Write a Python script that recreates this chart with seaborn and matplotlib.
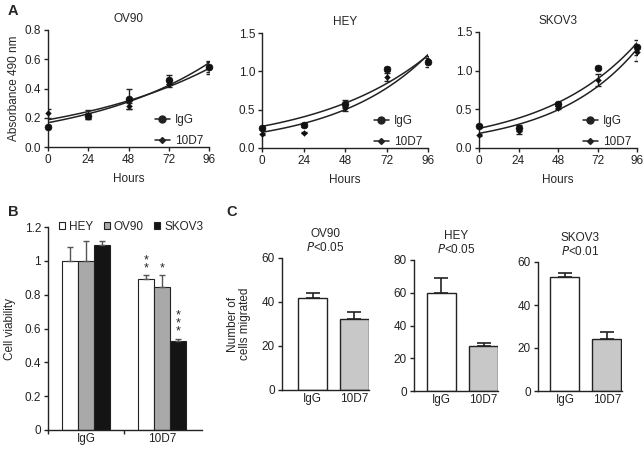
import matplotlib
matplotlib.use("Agg")
import matplotlib.pyplot as plt
import numpy as np
import pandas as pd
import seaborn as sns

# ---- data -----------------------------------------------------------------
hours = [0, 24, 48, 72, 96]
growth_lines = ["OV90", "HEY", "SKOV3"]
growth_ylim = {"OV90": (0.8, [0.0, 0.2, 0.4, 0.6, 0.8]),
               "HEY": (1.5, [0.0, 0.5, 1.0, 1.5]),
               "SKOV3": (1.5, [0.0, 0.5, 1.0, 1.5])}
igg_mean = {"OV90": [0.14, 0.21, 0.33, 0.46, 0.55],
            "HEY": [0.26, 0.30, 0.58, 1.03, 1.12],
            "SKOV3": [0.29, 0.26, 0.57, 1.04, 1.30]}
igg_err = {"OV90": [0.01, 0.02, 0.07, 0.03, 0.04],
           "HEY": [0.02, 0.02, 0.04, 0.03, 0.06],
           "SKOV3": [0.01, 0.04, 0.03, 0.02, 0.10]}
d10_mean = {"OV90": [0.23, 0.22, 0.28, 0.43, 0.54],
            "HEY": [0.18, 0.20, 0.52, 0.93, 1.15],
            "SKOV3": [0.17, 0.22, 0.52, 0.88, 1.24]}
d10_err = {"OV90": [0.03, 0.03, 0.02, 0.02, 0.04],
           "HEY": [0.01, 0.01, 0.04, 0.05, 0.05],
           "SKOV3": [0.01, 0.04, 0.02, 0.08, 0.11]}

via_groups = ["IgG", "10D7"]
via_lines = ["HEY", "OV90", "SKOV3"]
via_mean = {"HEY": [1.0, 0.89], "OV90": [1.0, 0.845], "SKOV3": [1.095, 0.525]}
via_err = {"HEY": [0.08, 0.025], "OV90": [0.12, 0.07], "SKOV3": [0.02, 0.015]}
via_stars = {"HEY": "**", "OV90": "*", "SKOV3": "***"}

mig_lines = ["OV90", "HEY", "SKOV3"]
mig_p = {"OV90": "0.05", "HEY": "0.05", "SKOV3": "0.01"}
mig_mean = {"OV90": [42, 32.5], "HEY": [60, 27.5], "SKOV3": [53, 24]}
mig_err = {"OV90": [2, 3], "HEY": [9, 2], "SKOV3": [2, 3.5]}
mig_ymax = {"OV90": 60, "HEY": 80, "SKOV3": 60}

# ---- figure ---------------------------------------------------------------
sns.set_theme(style="ticks")
plt.rcParams["font.family"] = ["Liberation Sans", "DejaVu Sans"]
FS = 8.5
plt.rcParams.update({"font.size": FS, "axes.linewidth": 1.0,
                     "axes.labelsize": FS, "axes.titlesize": FS,
                     "legend.fontsize": FS,
                     "xtick.major.size": 3, "ytick.major.size": 3,
                     "xtick.labelsize": FS, "ytick.labelsize": FS})

W, H = 644, 451
fig = plt.figure(figsize=(W / 100, H / 100), dpi=100)


def px_axes(left, top, right, bottom):
    return fig.add_axes([left / W, 1 - bottom / H, (right - left) / W, (bottom - top) / H])


def style(ax):
    sns.despine(ax=ax)
    ax.tick_params(colors="#222", width=1.0, pad=2)
    for s in ("left", "bottom"):
        ax.spines[s].set_color("#222")


def exp_fit(x, y):
    # least squares fit of y = a*exp(b*x) in linear space
    x = np.asarray(x, float)
    y = np.asarray(y, float)
    best = None
    for b in np.linspace(0.0, 0.05, 2001):
        e = np.exp(b * x)
        a = (y @ e) / (e @ e)
        sse = np.sum((y - a * e) ** 2)
        if best is None or sse < best[0]:
            best = (sse, a, b)
    return best[1], best[2]


# A: growth curves with exponential fit
a_boxes = {"OV90": (48, 30, 209, 147), "HEY": (262, 33, 428, 148),
           "SKOV3": (479, 32, 637, 148)}
xfit = np.linspace(0, 96, 100)
for name in growth_lines:
    ax = px_axes(*a_boxes[name])
    for label, mean, err, mk, ms in [("IgG", igg_mean, igg_err, "o", 5),
                                     ("10D7", d10_mean, d10_err, "D", 3)]:
        y = np.array(mean[name])
        ax.errorbar(hours, y, yerr=err[name], fmt="none", ecolor="#222",
                    elinewidth=1, capsize=2.5, zorder=3)
        sns.scatterplot(x=hours, y=y, marker=mk, s=ms ** 2, color="#111",
                        edgecolor="#111", ax=ax, zorder=4, clip_on=False)
        a, b = exp_fit(hours, y)
        sns.lineplot(x=xfit, y=a * np.exp(b * xfit), color="#222", lw=1.1, ax=ax)
        ax.plot([], [], color="#222", lw=1.1, marker=mk, ms=ms, label=label)
    ymax, yt = growth_ylim[name]
    ax.set_xlim(0, 96)
    ax.set_ylim(0, ymax)
    ax.set_xticks(hours)
    ax.set_yticks(yt)
    ax.set_yticklabels([f"{v:.1f}" for v in yt])
    ax.set_xlabel("Hours", labelpad=5)
    ax.set_ylabel("Absorbance 490 nm" if name == "OV90" else "", labelpad=3)
    ax.set_title(name, pad=6)
    ax.legend(loc="lower right", bbox_to_anchor=(1.0, -0.05), frameon=False,
              handlelength=1.3, handletextpad=0.4, labelspacing=0.75,
              borderaxespad=0.1)
    style(ax)

# B: cell viability
axb = px_axes(48, 227, 202, 430)
df_b = pd.DataFrame([(g, l, via_mean[l][i]) for l in via_lines
                     for i, g in enumerate(via_groups)],
                    columns=["group", "line", "value"])
palette = {"HEY": "white", "OV90": "#a9a9a9", "SKOV3": "#141414"}
sns.barplot(data=df_b, x="group", y="value", hue="line", hue_order=via_lines,
            order=via_groups, palette=palette, edgecolor="#222", linewidth=0.8,
            width=0.63, errorbar=None, ax=axb, legend=False)
bw = 0.21
for j, l in enumerate(via_lines):
    xs = np.arange(2) + (j - 1) * bw
    axb.errorbar(xs, via_mean[l], yerr=[[0, 0], via_err[l]], fmt="none",
                 ecolor="#555", elinewidth=1, capsize=2.5)
    top = via_mean[l][1] + via_err[l][1]
    axb.text(xs[1], top + 0.005, "\n".join(via_stars[l]), ha="center",
             va="bottom", fontsize=9, linespacing=0.6)
axb.set_xlim(-0.5, 1.52)
axb.set_ylim(0, 1.2)
axb.set_yticks([0, 0.2, 0.4, 0.6, 0.8, 1, 1.2])
axb.set_yticklabels(["0", "0.2", "0.4", "0.6", "0.8", "1", "1.2"])
axb.set_xticks([0, 1])
axb.set_xticks([-0.5, 0.5], minor=True)
axb.tick_params(axis="x", which="major", length=0, pad=5)
axb.tick_params(axis="x", which="minor", length=3, width=1, color="#222")
axb.set_xlabel("")
axb.set_ylabel("Cell viability", labelpad=6)
style(axb)
handles = [plt.Rectangle((0, 0), 1, 1, facecolor=palette[l], edgecolor="#222",
                         linewidth=0.8) for l in via_lines]
axb.legend(handles, via_lines, loc="center left", bbox_to_anchor=(0.04, 1.0),
           ncol=3, frameon=False, handlelength=0.5, handleheight=0.5,
           handletextpad=0.35, columnspacing=0.9, borderaxespad=0)

# C: migration
c_boxes = {"OV90": (282, 258, 369, 390, -0.73, 1.35),
           "HEY": (414, 260, 498, 391, -0.64, 1.34),
           "SKOV3": (538, 262, 622, 391, -0.64, 1.36)}
for name in mig_lines:
    l, t, r, b_, x0, x1 = c_boxes[name]
    ax = px_axes(l, t, r, b_)
    df_c = pd.DataFrame({"group": via_groups, "value": mig_mean[name]})
    sns.barplot(data=df_c, x="group", y="value", hue="group", order=via_groups,
                palette={"IgG": "white", "10D7": "#c8c8c8"}, edgecolor="#222",
                linewidth=1.0, width=0.69, errorbar=None, ax=ax, legend=False)
    ax.errorbar([0, 1], mig_mean[name], yerr=[[0, 0], mig_err[name]],
                fmt="none", ecolor="#222", elinewidth=1.2, capsize=5, capthick=1.2)
    ax.set_xlim(x0, x1)
    ax.set_ylim(0, mig_ymax[name])
    ax.set_yticks(np.arange(0, mig_ymax[name] + 1, 20))
    ax.tick_params(axis="x", length=0, pad=5)
    ax.set_xlabel("")
    ax.set_ylabel("Number of\ncells migrated" if name == "OV90" else "",
                  labelpad=8, linespacing=1.0)
    ax.set_title(name + "\n$\\it{P}$<" + mig_p[name], linespacing=1.15, pad=5)
    style(ax)

for letter, x, y in [("A", 8, 11), ("B", 8, 212), ("C", 226, 212)]:
    fig.text(x / W, 1 - y / H, letter, fontsize=10.5, fontweight="bold",
             va="center", ha="left")

fig.savefig("out.png", dpi=100)
